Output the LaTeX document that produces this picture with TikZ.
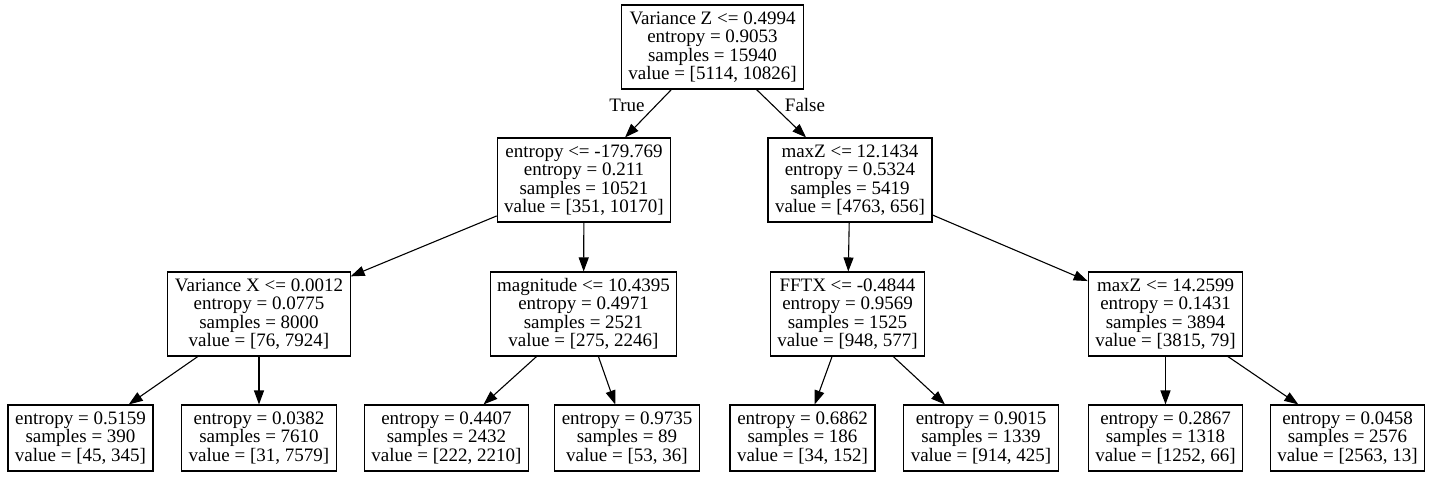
\documentclass[tikz,border=0pt]{standalone}
\usepackage{fontspec}
\setmainfont{Liberation Serif}
\usetikzlibrary{arrows.meta}

\begin{document}
\begin{tikzpicture}[x=1pt,y=-1pt,
  font={\fontsize{19}{18.5}\selectfont},
  split/.style={draw,rectangle,line width=1.1pt,align=center,inner xsep=7pt,inner ysep=2pt,minimum height=84pt},
  leaf/.style={split,minimum height=66pt},
  edge/.style={line width=1.1pt,-{Triangle[length=14pt,width=10pt]}}]
\useasboundingbox (0,0) rectangle (1433,477);
\node[split] at (712.5,47) (root) {Variance Z <= 0.4994\\entropy = 0.9053\\samples = 15940\\value = [5114, 10826]};
\node[split] at (584,180) (n1) {entropy <= -179.769\\entropy = 0.211\\samples = 10521\\value = [351, 10170]};
\node[split] at (850,180) (n2) {maxZ <= 12.1434\\entropy = 0.5324\\samples = 5419\\value = [4763, 656]};
\node[split] at (259,314) (n11) {Variance X <= 0.0012\\entropy = 0.0775\\samples = 8000\\value = [76, 7924]};
\node[split] at (583.5,314) (n12) {magnitude <= 10.4395\\entropy = 0.4971\\samples = 2521\\value = [275, 2246]};
\node[split] at (847.5,314) (n21) {FFTX <= -0.4844\\entropy = 0.9569\\samples = 1525\\value = [948, 577]};
\node[split] at (1165.5,314) (n22) {maxZ <= 14.2599\\entropy = 0.1431\\samples = 3894\\value = [3815, 79]};
\node[leaf] at (80.5,438) (l1) {entropy = 0.5159\\samples = 390\\value = [45, 345]};
\node[leaf] at (259,438) (l2) {entropy = 0.0382\\samples = 7610\\value = [31, 7579]};
\node[leaf] at (446.5,438) (l3) {entropy = 0.4407\\samples = 2432\\value = [222, 2210]};
\node[leaf] at (627,438) (l4) {entropy = 0.9735\\samples = 89\\value = [53, 36]};
\node[leaf] at (802.5,438) (l5) {entropy = 0.6862\\samples = 186\\value = [34, 152]};
\node[leaf] at (981,438) (l6) {entropy = 0.9015\\samples = 1339\\value = [914, 425]};
\node[leaf] at (1165.5,438) (l7) {entropy = 0.2867\\samples = 1318\\value = [1252, 66]};
\node[leaf] at (1347.5,438) (l8) {entropy = 0.0458\\samples = 2576\\value = [2563, 13]};
\node at (627,105) (t) {True};
\node at (805,105) (f) {False};

\draw[edge] (root) -- (n1);
\draw[edge] (root) -- (n2);
\draw[edge] (n1) -- (n11);
\draw[edge] (n1) -- (n12);
\draw[edge] (n2) -- (n21);
\draw[edge] (n2) -- (n22);
\draw[edge] (n11) -- (l1);
\draw[edge] (n11) -- (l2);
\draw[edge] (n12) -- (l3);
\draw[edge] (n12) -- (l4);
\draw[edge] (n21) -- (l5);
\draw[edge] (n21) -- (l6);
\draw[edge] (n22) -- (l7);
\draw[edge] (n22) -- (l8);
\end{tikzpicture}
\end{document}
